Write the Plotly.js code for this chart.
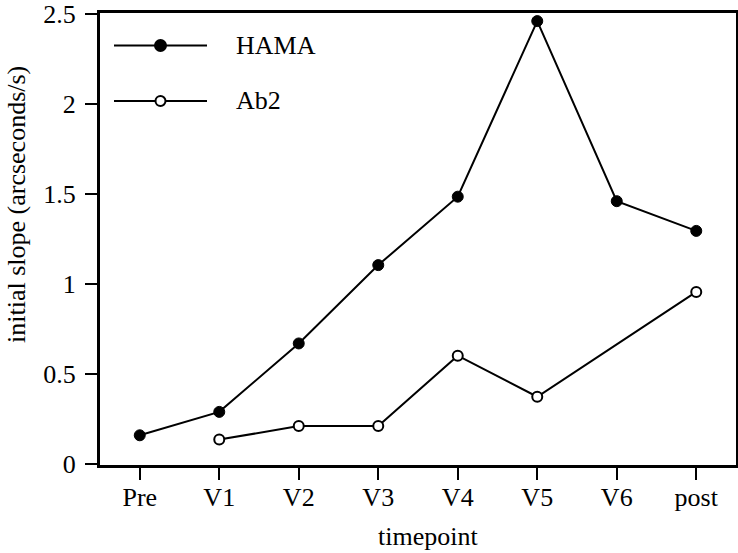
<!DOCTYPE html>
<html>
<head>
<meta charset="utf-8">
<script src="https://cdn.plot.ly/plotly-3.0.1.min.js"></script>
<style>html,body{margin:0;padding:0;background:#fff;}#chart{width:738px;height:553px;}</style>
</head>
<body>
<div id="chart"></div>
<script>
var timepoints = ["Pre", "V1", "V2", "V3", "V4", "V5", "V6", "post"];
var hamaValues = [0.16, 0.29, 0.67, 1.105, 1.485, 2.46, 1.46, 1.295];
var ab2Values = [null, 0.136, 0.211, 0.211, 0.602, 0.374, null, 0.956];
var seriesNames = ["HAMA", "Ab2"];
var yTickVals = [0, 0.5, 1, 1.5, 2, 2.5];
var yTickText = ["0", "0.5", "1", "1.5", "2", "2.5"];
var xTitle = "timepoint";
var yTitle = "initial slope (arcseconds/s)";

var W = 738, H = 553;
var M = {l: 100, r: 2, t: 13, b: 88};
function px(x) { return (x - M.l) / (W - M.l - M.r); }
function py(y) { return (H - M.b - y) / (H - M.t - M.b); }

var FONT = "Liberation Serif, Times New Roman, serif";

var traces = [
  {
    x: timepoints, y: hamaValues, name: seriesNames[0], type: "scatter", mode: "lines+markers",
    line: {color: "#000", width: 2},
    marker: {symbol: "circle", size: 11, color: "#000", line: {color: "#000", width: 1}},
    showlegend: false, cliponaxis: false
  },
  {
    x: timepoints, y: ab2Values, name: seriesNames[1], type: "scatter", mode: "lines+markers",
    connectgaps: true,
    line: {color: "#000", width: 2},
    marker: {symbol: "circle", size: 10, color: "#fff", line: {color: "#000", width: 2}},
    showlegend: false, cliponaxis: false
  }
];

var legendRows = [
  {y: 45.5, fill: "#000", r: 5.5, name: seriesNames[0]},
  {y: 101, fill: "#fff", r: 5, name: seriesNames[1]}
];
var shapes = [], annotations = [];
legendRows.forEach(function (row) {
  shapes.push({type: "line", xref: "paper", yref: "paper", x0: px(114), x1: px(207), y0: py(row.y), y1: py(row.y),
    line: {color: "#000", width: 2}});
  shapes.push({type: "circle", xref: "paper", yref: "paper", xsizemode: "pixel", ysizemode: "pixel",
    xanchor: px(160.5), yanchor: py(row.y), x0: -row.r, x1: row.r, y0: -row.r, y1: row.r,
    fillcolor: row.fill, line: {color: "#000", width: 2}});
  annotations.push({xref: "paper", yref: "paper", x: px(234), y: py(row.y), xanchor: "left", yanchor: "middle",
    text: row.name, showarrow: false, font: {family: FONT, size: 26, color: "#000"}});
});
annotations.push({xref: "paper", yref: "paper", x: px(16), y: py(205), xanchor: "center", yanchor: "middle",
  textangle: -90, text: yTitle, showarrow: false, font: {family: FONT, size: 26, color: "#000"}});
annotations.push({xref: "paper", yref: "paper", x: px(428), y: py(536), xanchor: "center", yanchor: "middle",
  text: xTitle, showarrow: false, font: {family: FONT, size: 26, color: "#000"}});

var layout = {
  width: W, height: H,
  margin: M,
  paper_bgcolor: "#fff", plot_bgcolor: "#fff",
  font: {family: FONT, size: 26, color: "#000"},
  showlegend: false,
  xaxis: {
    type: "category", categoryorder: "array", categoryarray: timepoints,
    range: [-0.5, 7.5], showgrid: false, zeroline: false,
    showline: true, linecolor: "#000", linewidth: 3, mirror: true,
    ticks: "outside", ticklen: 12, tickwidth: 2, tickcolor: "#000",
    ticklabelstandoff: -5,
    tickfont: {family: FONT, size: 26, color: "#000"}
  },
  yaxis: {
    range: [-0.005, 2.505], showgrid: false, zeroline: false,
    showline: true, linecolor: "#000", linewidth: 3, mirror: true,
    ticks: "outside", ticklen: 12, tickwidth: 2, tickcolor: "#000",
    ticklabelstandoff: 4,
    tickvals: yTickVals, ticktext: yTickText,
    tickfont: {family: FONT, size: 26, color: "#000"}
  },
  shapes: shapes,
  annotations: annotations
};

Plotly.newPlot("chart", traces, layout, {displayModeBar: false, staticPlot: true});
</script>
</body>
</html>
